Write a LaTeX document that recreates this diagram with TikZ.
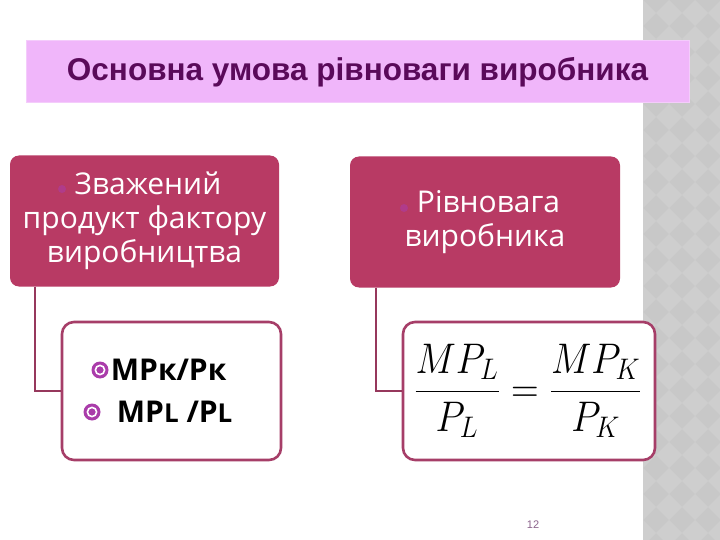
\documentclass[tikz,border=0pt]{standalone}
\usepackage{fontspec}
\setmainfont{Open Sans}
\newfontfamily\titlefont{Liberation Sans}
\usepackage{amsmath}
\usepackage{tikz}
\usetikzlibrary{positioning}

\definecolor{titlefill}{RGB}{240,182,250}
\definecolor{titletext}{RGB}{90,10,90}
\definecolor{headfill}{RGB}{184,58,100}
\definecolor{subline}{RGB}{166,62,104}
\definecolor{connline}{RGB}{150,56,92}
\definecolor{bulpurple}{RGB}{170,60,170}
\definecolor{stripgray}{RGB}{200,200,200}
\definecolor{numgray}{RGB}{140,100,140}

\begin{document}
\begin{tikzpicture}[x=1pt, y=-1pt,
	head/.style={rectangle, rounded corners=9pt, fill=headfill, text=white, align=center,
		minimum height=131pt, font=\fontsize{30}{34}\selectfont, inner sep=0pt},
	sub/.style={rectangle, rounded corners=12pt, draw=subline, line width=2.6pt, fill=white,
		minimum height=138pt, inner sep=0pt},
	conn/.style={draw=connline, line width=2.6pt},
	bul/.style={circle, fill=bulpurple, minimum size=17pt, inner sep=0pt,
		path picture={\draw[white, line width=1.6pt] (path picture bounding box.center) circle (4.6pt);}},
	dotbul/.style={circle, fill=bulpurple!55!headfill, minimum size=8pt, inner sep=0pt},
	item/.style={anchor=west, font=\bfseries\fontsize{30}{32}\selectfont, inner sep=0pt}]
	\useasboundingbox (0,0) rectangle (720,540);
	\fill[white] (0,0) rectangle (720,540);
	
	% side strip
	\begin{scope}
		\clip (643,0) rectangle (720,540);
		\fill[stripgray] (643,0) rectangle (720,540);
		\foreach \i in {0,...,3} {
			\foreach \j in {0,...,22} {
				\fill[white, opacity=0.12] (643+\i*26,\j*26) -- ++(13,13) -- ++(-13,13) -- ++(-13,-13) -- cycle;
			}
		}
	\end{scope}
	
	\node[rectangle, fill=titlefill, draw=titlefill!70!white, line width=1pt,
		minimum width=663pt, minimum height=62pt, inner sep=0pt,
		text=titletext, font=\titlefont\bfseries\fontsize{31.5}{34}\selectfont]
		(title) at (357.5,72) {Основна умова рівноваги виробника};
	
	\node[head, minimum width=269pt] (lhead) at (144.5,221)
		{\hspace*{7pt}Зважений\\продукт фактору\\виробництва};
	\node[head, minimum width=270pt] (rhead) at (485,222)
		{\hspace*{7pt}Рівновага\\виробника};
	\node[dotbul] (ldot) at (62,189) {};
	\node[dotbul] (rdot) at (404,208) {};
	
	\node[sub, minimum width=219pt] (lsub) at (171.5,391) {};
	\node[sub, minimum width=252pt] (rsub) at (529,391) {};
	
	\node[bul] (kbul) at (100,370) {};
	\node[item, right=2pt of kbul] (kline) {МРк/Рк};
	\node[bul] (lbul) at (92,412) {};
	\node[item, right=16pt of lbul] (lline)
		{MP{\fontsize{26}{28}\selectfont L} /P{\fontsize{26}{28}\selectfont L}};
	
	\node[inner sep=0pt, xscale=1.54, yscale=1.72] (eq) at (528,391)
		{\fontsize{24}{29}\selectfont$\displaystyle \frac{MP_{L}}{P_{L}} = \frac{MP_{K}}{P_{K}}$};
	
	\draw[conn] ([xshift=25pt]lhead.south west) |- (lsub.west);
	\draw[conn] ([xshift=26pt]rhead.south west) |- (rsub.west);
	
	\node[text=numgray, font=\titlefont\fontsize{11}{12}\selectfont] (num) at (533,525) {12};
\end{tikzpicture}
\end{document}
